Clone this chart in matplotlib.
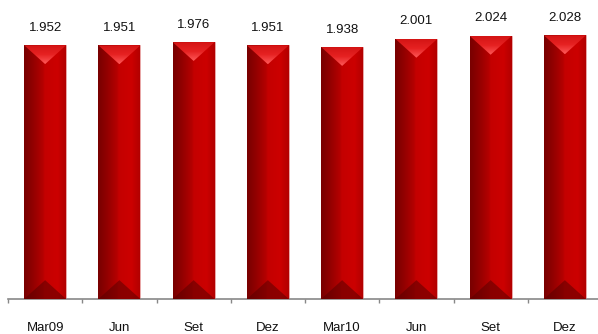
import numpy as np
import matplotlib
matplotlib.use("Agg")
import matplotlib.pyplot as plt
from matplotlib.colors import LinearSegmentedColormap
from matplotlib.patches import Polygon

categories = ["Mar09", "Jun", "Set", "Dez", "Mar10", "Jun", "Set", "Dez"]
values = [1.952, 1.951, 1.976, 1.951, 1.938, 2.001, 2.024, 2.028]
labels = ["1.952", "1.951", "1.976", "1.951", "1.938", "2.001", "2.024", "2.028"]

plt.rcParams['font.family'] = ['Liberation Sans', 'DejaVu Sans']

fig = plt.figure(figsize=(5.98, 3.34), dpi=100)
ax = fig.add_axes([8/598, (334-299)/334, 594/598, 299/334])
ax.set_xlim(-0.5, 7.5)
ax.set_ylim(0, 2.3)

width = 0.565
x = np.arange(len(values))
bars = ax.bar(x, values, width=width, color='#c00000', edgecolor='#eab0b0', linewidth=0.6, zorder=2)

cmap = LinearSegmentedColormap.from_list('bar', [
    (0.0, '#780000'), (0.2, '#900000'), (0.45, '#b40000'),
    (0.5, '#c40000'), (0.8, '#cc0000'), (1.0, '#b20000')])
grad = np.linspace(0, 1, 256).reshape(1, -1)
tcmap = LinearSegmentedColormap.from_list('top', ['#d41414', '#e62222', '#ff5a5a'])
vgrad = np.linspace(1, 0, 128).reshape(-1, 1)

tri_h = 0.145  # data units, ~19px
for xi, v, b in zip(x, values, bars):
    l, r = xi - width/2, xi + width/2
    im = ax.imshow(grad, extent=[l, r, 0, v], aspect='auto', cmap=cmap, zorder=3)
    im.set_clip_path(b)
    # top chevron with vertical gradient (bright at apex)
    top = Polygon([[l, v], [r, v], [xi, v - tri_h]], closed=True,
                  facecolor='none', edgecolor='none', zorder=4)
    ax.add_patch(top)
    tim = ax.imshow(vgrad, extent=[l, r, v - tri_h, v], origin='lower', aspect='auto',
                    cmap=tcmap, vmin=0, vmax=1, zorder=4)
    tim.set_clip_path(top)
    # bottom dark triangle
    bot = Polygon([[l, 0], [r, 0], [xi, tri_h]], closed=True,
                  facecolor='#5a0000', edgecolor='none', alpha=0.55, zorder=4)
    ax.add_patch(bot)
    ax.text(xi, v + 0.135, labels[xi], ha='center', va='center', fontsize=9.5, color='#111111', zorder=5)

for s in ['top', 'right', 'left']:
    ax.spines[s].set_visible(False)
ax.spines['bottom'].set_color('#888888')
ax.spines['bottom'].set_linewidth(1.2)
ax.set_yticks([])
ax.set_xticks(np.arange(-0.5, 8, 1))
ax.set_xticklabels([])
ax.tick_params(axis='x', direction='out', length=3, color='#888888', width=1)
for xi, c in zip(x, categories):
    ax.text(xi, -0.22, c, ha='center', va='center', fontsize=9.5, color='#111111')

fig.savefig('out.png', dpi=100)
